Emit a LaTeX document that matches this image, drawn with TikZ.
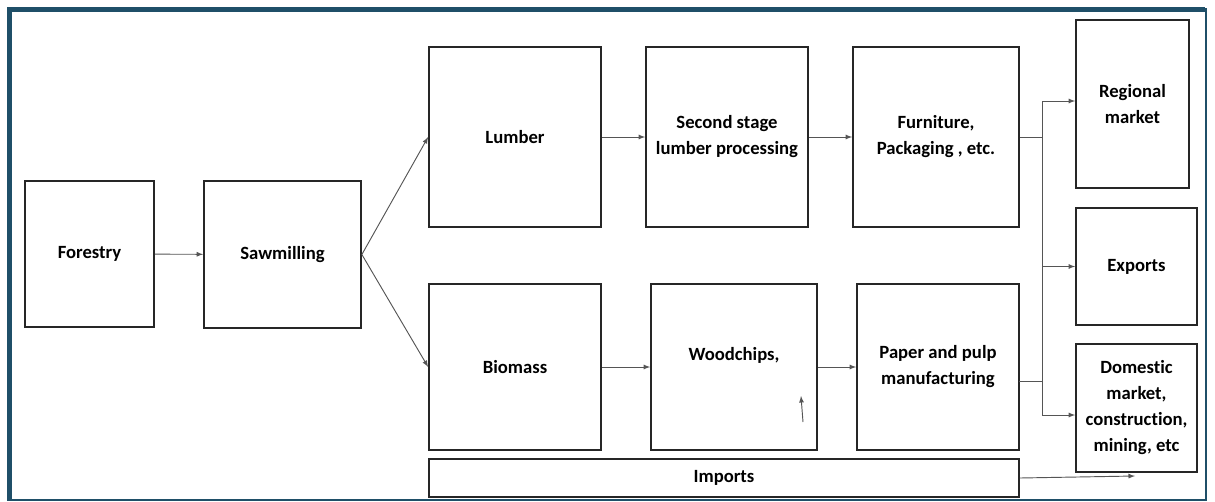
\documentclass[tikz,border=0pt]{standalone}
\usepackage{fontspec}
\setmainfont{Carlito}[RawFeature=-liga]
\definecolor{framecol}{HTML}{1F4F68}
\definecolor{arrowcol}{HTML}{555555}

\begin{document}
\begin{tikzpicture}[x=0.75pt, y=-0.75pt, >=latex,
          box/.style={rectangle, draw=black!85, line width=1.3pt, fill=white,
            inner sep=0pt, align=center, font=\fontsize{14}{19.5}\selectfont\bfseries},
          size/.style 2 args={minimum width=#1*0.75pt, minimum height=#2*0.75pt},
          flow/.style={draw=arrowcol, line width=0.7pt}]

        \useasboundingbox (0,0) rectangle (1215,501);

        % frame
        \draw[framecol, line width=3.5pt] (1205,9.5) -- (9.5,9.5) -- (9.5,501);
        \draw[framecol, line width=1.5pt] (9.5,500) -- (1206,500) -- (1206,8);

        \node[box, size={129}{146}] (forestry)   at (89.5,254)   {Forestry};
        \node[box, size={157}{147}] (sawmill)    at (282.5,254.5) {Sawmilling};

        \node[box, size={172}{180}] (lumber)     at (515,137)    {Lumber};
        \node[box, size={162}{180}] (second)     at (727,137)    {Second stage\\lumber processing};
        \node[box, size={166}{180}] (furniture)  at (936,137)    {Furniture,\\Packaging , etc.};

        \node[box, size={172}{166}] (biomass)    at (515,367)    {Biomass};
        \node[box, size={166}{166}] (woodchips)  at (734,367)    {Woodchips,\\\mbox{}};
        \node[box, size={162}{166}] (paper)      at (938,367)    {Paper and pulp\\manufacturing};

        \node[box, size={590}{38}]  (imports)    at (724,478)    {Imports};

        \node[box, size={113}{168}] (regional)   at (1132.5,104) {Regional\\market};
        \node[box, size={121}{117}] (exports)    at (1136.5,266.5) {Exports};
        \node[box, size={121}{128}] (domestic)   at (1136.5,408) {Domestic\\market,\\construction,\\mining, etc};

        \coordinate (bustop) at (1042,101);
        \coordinate (busbot) at (1042,415);
        \coordinate (pout)   at (1019,381);
        \coordinate (wtail)  at (803,422);
        \coordinate (whead)  at (801,396);
        \coordinate (ihead)  at (1135,476);

        \draw[flow, ->] (forestry) -- (sawmill);
        \draw[flow, ->] (sawmill.east) -- (lumber.west);
        \draw[flow, ->] (sawmill.east) -- (biomass.west);

        \draw[flow, ->] (lumber)  -- (second);
        \draw[flow, ->] (second)  -- (furniture);
        \draw[flow, ->] (biomass) -- (woodchips);
        \draw[flow, ->] (woodchips) -- (paper);

        \draw[flow] (furniture.east) -- (furniture.east -| bustop);
        \draw[flow] (pout) -- (pout -| busbot);
        \draw[flow] (bustop) -- (busbot);
        \draw[flow, ->] (bustop) -- (bustop -| regional.west);
        \draw[flow, ->] (bustop |- exports) -- (exports.west);
        \draw[flow, ->] (busbot) -- (busbot -| domestic.west);

        \draw[flow, ->] (wtail) -- (whead);
        \draw[flow, ->] (imports.east) -- (ihead);

      \end{tikzpicture}
\end{document}
